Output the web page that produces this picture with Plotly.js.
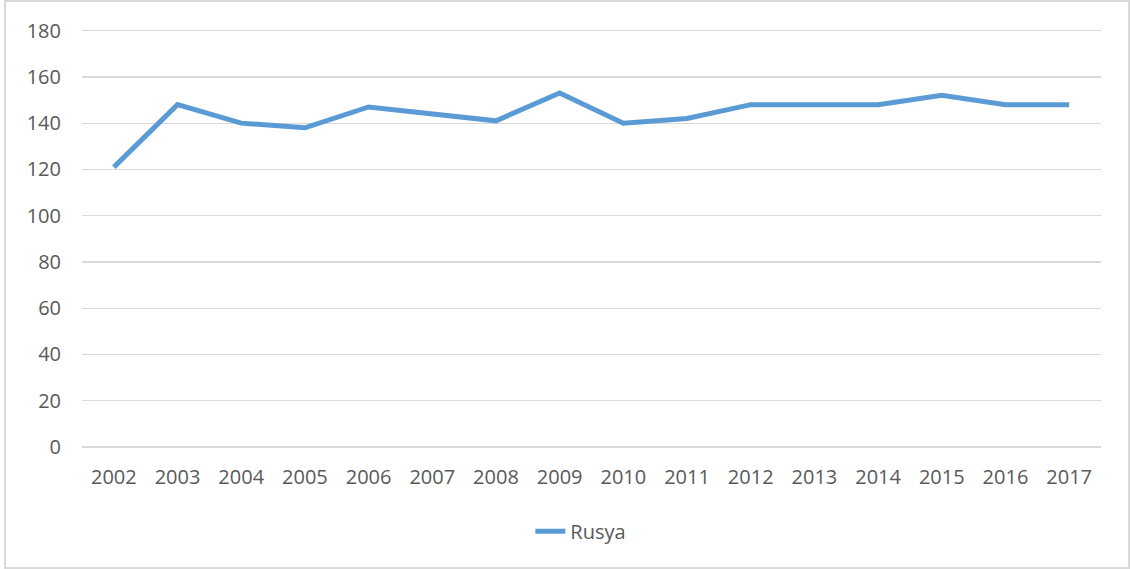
<!DOCTYPE html>
<html>
<head>
<meta charset="utf-8">
<script src="https://cdn.plot.ly/plotly-3.0.1.min.js"></script>
<style>
  html, body { margin: 0; padding: 0; background: #ffffff; }
  #wrap { position: relative; width: 1131px; height: 569px; }
  #chart { position: absolute; left: 0; top: 0; width: 1131px; height: 569px; }
  #frame { position: absolute; left: 4px; top: 0px; width: 1122px; height: 565px;
           border: 2px solid #d9d9d9; pointer-events: none; }
</style>
</head>
<body>
<div id="wrap">
  <div id="chart"></div>
  <div id="frame"></div>
</div>
<script>
const years = ["2002","2003","2004","2005","2006","2007","2008","2009",
               "2010","2011","2012","2013","2014","2015","2016","2017"];
const rusya = [121, 148, 140, 138, 147, 144, 141, 153,
               140, 142, 148, 148, 148, 152, 148, 148];
const seriesName = "Rusya";
const yTicks = [0, 20, 40, 60, 80, 100, 120, 140, 160, 180];

const FONT = "Open Sans, Lato, sans-serif";
const TXT = "#595959";
const GRID = "#d9d9d9";

const trace = {
  type: "scatter",
  mode: "lines",
  x: years,
  y: rusya,
  name: seriesName,
  line: { color: "#5b9bd5", width: 5, shape: "linear" },
  hoverinfo: "x+y"
};

const layout = {
  width: 1131,
  height: 569,
  margin: { l: 82, r: 30, t: 26, b: 122 },
  paper_bgcolor: "rgba(0,0,0,0)",
  plot_bgcolor: "rgba(0,0,0,0)",
  font: { family: FONT, size: 20, color: TXT },
  showlegend: true,
  legend: {
    orientation: "h",
    x: 0.44, xanchor: "left",
    y: -0.2, yanchor: "middle",
    font: { family: FONT, size: 20, color: TXT },
    bgcolor: "rgba(0,0,0,0)"
  },
  xaxis: {
    type: "category",
    categoryarray: years,
    range: [-0.5, years.length - 0.5],
    showgrid: false,
    zeroline: false,
    showline: false,
    ticks: "",
    ticklabelstandoff: 16,
    tickfont: { family: FONT, size: 20, color: TXT },
    fixedrange: true
  },
  yaxis: {
    range: [0, 182],
    tickmode: "array",
    tickvals: yTicks,
    ticktext: yTicks.map(String),
    showgrid: true,
    gridcolor: GRID,
    gridwidth: 1.3,
    zeroline: true,
    zerolinecolor: GRID,
    zerolinewidth: 1.3,
    showline: false,
    ticks: "",
    ticklabelstandoff: 20,
    tickfont: { family: FONT, size: 20, color: TXT },
    fixedrange: true
  }
};

Plotly.newPlot("chart", [trace], layout, { displayModeBar: false, staticPlot: true });
</script>
</body>
</html>
